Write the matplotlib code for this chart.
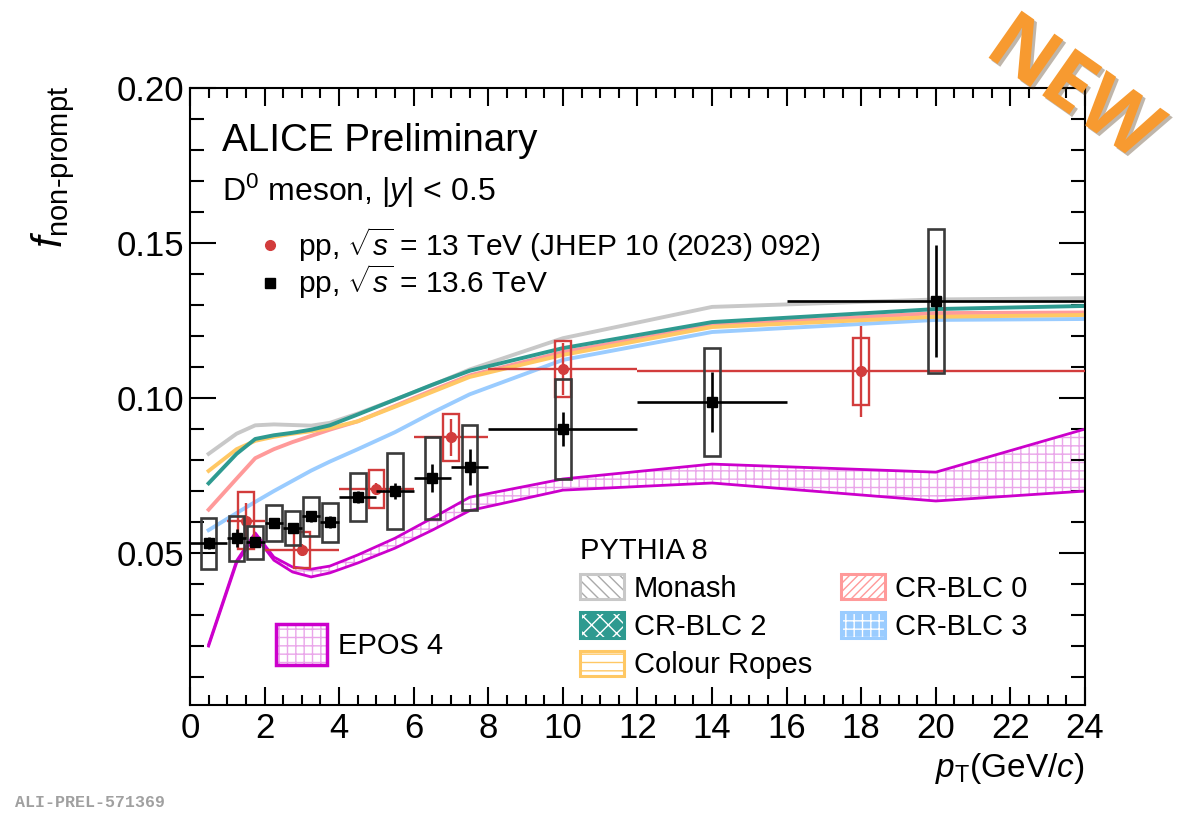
import matplotlib
matplotlib.use('Agg')
import matplotlib.pyplot as plt
import numpy as np
from matplotlib.patches import Patch
from matplotlib.lines import Line2D
from matplotlib.legend_handler import HandlerTuple
import matplotlib.patheffects as pe
from matplotlib.ticker import MultipleLocator, FormatStrFormatter

plt.rcParams['font.family'] = ['Liberation Sans', 'DejaVu Sans']
plt.rcParams['mathtext.fontset'] = 'custom'
plt.rcParams['mathtext.rm'] = 'Liberation Sans'
plt.rcParams['mathtext.it'] = 'Liberation Sans:italic'
plt.rcParams['mathtext.bf'] = 'Liberation Sans:bold'
plt.rcParams['hatch.linewidth'] = 1.0

# ---------------- data: pp 13.6 TeV ----------------
bin_lo_136 = [0, 1, 1.5, 2, 2.5, 3, 3.5, 4, 5, 6, 7, 8, 12, 16]
bin_hi_136 = [1, 1.5, 2, 2.5, 3, 3.5, 4, 5, 6, 7, 8, 12, 16, 24]
f_136 = [0.0532, 0.0548, 0.0535, 0.0597, 0.0581, 0.0619, 0.0600, 0.0681,
         0.0700, 0.0742, 0.0777, 0.0900, 0.0987, 0.1313]
stat_136 = [0.0020, 0.0028, 0.0015, 0.0015, 0.0015, 0.0018, 0.0018, 0.0020,
            0.0025, 0.0045, 0.0058, 0.0056, 0.0098, 0.0180]
syst_136 = [0.0082, 0.0072, 0.0053, 0.0057, 0.0054, 0.0063, 0.0063, 0.0076,
            0.0124, 0.0132, 0.0137, 0.0161, 0.0175, 0.0232]

# ---------------- data: pp 13 TeV (JHEP 10 (2023) 092) ----------------
bin_lo_13 = [1, 2, 4, 6, 8, 12]
bin_hi_13 = [2, 4, 6, 8, 12, 24]
f_13 = [0.0605, 0.0510, 0.0706, 0.0874, 0.1094, 0.1087]
stat_13 = [0.0058, 0.0020, 0.0020, 0.0060, 0.0085, 0.0147]
syst_13 = [0.0092, 0.0058, 0.0062, 0.0076, 0.0090, 0.0108]

# ---------------- models ----------------
pt_model = [0.5, 1.25, 1.75, 2.25, 2.75, 3.25, 3.75, 4.5, 5.5, 6.5, 7.5, 10, 14, 20, 24]
monash = [0.0820, 0.0885, 0.0912, 0.0915, 0.0913, 0.0911, 0.0920, 0.0950,
          0.0995, 0.1042, 0.1092, 0.1193, 0.1294, 0.1318, 0.1322]
crblc0 = [0.0640, 0.0740, 0.0806, 0.0835, 0.0858, 0.0878, 0.0898, 0.0925,
          0.0975, 0.1025, 0.1073, 0.1148, 0.1235, 0.1274, 0.1276]
crblc2 = [0.0725, 0.0820, 0.0868, 0.0880, 0.0888, 0.0898, 0.0912, 0.0947,
          0.0995, 0.1043, 0.1088, 0.1161, 0.1245, 0.1287, 0.1297]
crblc3 = [0.0574, 0.0629, 0.0665, 0.0700, 0.0733, 0.0766, 0.0795, 0.0835,
          0.0890, 0.0953, 0.1012, 0.1123, 0.1213, 0.1252, 0.1255]
ropes = [0.0765, 0.0835, 0.0862, 0.0875, 0.0885, 0.0893, 0.0903, 0.0925,
         0.0972, 0.1020, 0.1068, 0.1139, 0.1229, 0.1262, 0.1268]
epos_hi = [0.0205, 0.0475, 0.0565, 0.0487, 0.0455, 0.0448, 0.0458, 0.0494,
           0.0548, 0.0613, 0.0680, 0.0739, 0.0787, 0.0761, 0.0900]
epos_lo = [0.0200, 0.0468, 0.0555, 0.0477, 0.0439, 0.0423, 0.0436, 0.0468,
           0.0516, 0.0574, 0.0637, 0.0703, 0.0726, 0.0668, 0.0700]

# colours
c_red = '#d23c3c'
c_black = 'black'
c_box = '#3a3a3a'
c_monash = '#c8c8c8'
c_blc0 = '#ff9a9a'
c_blc2 = '#2e9a90'
c_blc3 = '#9accff'
c_ropes = '#ffc864'
c_epos = '#cc00cc'
c_epos_h = '#eaa6ea'

fig = plt.figure(figsize=(11.91, 8.15), dpi=100)
ax = fig.add_axes([0.1595, 0.135, 0.7515, 0.757])

# models
ax.fill_between(pt_model, epos_lo, epos_hi, facecolor='none', edgecolor=c_epos_h,
                hatch='++', lw=0, zorder=1)
ax.plot(pt_model, epos_hi, color=c_epos, lw=2.0, zorder=2)
ax.plot(pt_model, epos_lo, color=c_epos, lw=2.0, zorder=2)
for vals, col in [(monash, c_monash), (crblc3, c_blc3), (crblc0, c_blc0),
                  (ropes, c_ropes), (crblc2, c_blc2)]:
    ax.plot(pt_model, vals, color=col, lw=2.8, zorder=2, solid_joinstyle='round')

# data 13 TeV
x13 = (np.array(bin_lo_13) + np.array(bin_hi_13)) / 2
xe13 = (np.array(bin_hi_13) - np.array(bin_lo_13)) / 2
ax.bar(x13, 2 * np.array(syst_13), bottom=np.array(f_13) - np.array(syst_13),
       width=0.42, facecolor='none', edgecolor=c_red, lw=1.7, zorder=4)
ax.errorbar(x13, f_13, xerr=xe13, yerr=stat_13, fmt='o', color=c_red, ms=7,
            elinewidth=1.7, capsize=0, zorder=5)

# data 13.6 TeV
x136 = (np.array(bin_lo_136) + np.array(bin_hi_136)) / 2
xe136 = (np.array(bin_hi_136) - np.array(bin_lo_136)) / 2
ax.bar(x136, 2 * np.array(syst_136), bottom=np.array(f_136) - np.array(syst_136),
       width=0.42, facecolor='none', edgecolor=c_box, lw=1.9, zorder=6)
ax.errorbar(x136, f_136, xerr=xe136, yerr=stat_136, fmt='s', color=c_black, ms=7.5,
            elinewidth=1.9, capsize=0, zorder=7)

# axes
ax.set_xlim(0, 24)
ax.set_ylim(0.001, 0.2)
ax.xaxis.set_major_locator(MultipleLocator(2))
ax.xaxis.set_minor_locator(MultipleLocator(0.5))
ax.yaxis.set_major_locator(MultipleLocator(0.05))
ax.yaxis.set_minor_locator(MultipleLocator(0.01))
ax.yaxis.set_major_formatter(FormatStrFormatter('%.2f'))
ax.tick_params(axis='both', which='both', direction='in', top=True, right=True,
               width=1.5, labelsize=25)
ax.tick_params(axis='x', which='major', length=13, pad=5)
ax.tick_params(axis='x', which='minor', length=7)
ax.tick_params(axis='y', which='major', length=19, pad=4)
ax.tick_params(axis='y', which='minor', length=10)
for s in ax.spines.values():
    s.set_linewidth(1.5)

ax.set_xlabel(r'$p_{\rm T}$(GeV/$c$)', fontsize=24, ha='right')
ax.xaxis.set_label_coords(1.0, -0.075)
fig.text(0.045, 0.895, r'$f_{\text{non-prompt}}$', rotation=90, va='top', ha='center',
         fontsize=30)

# texts
ax.text(0.036, 0.914, 'ALICE Preliminary', transform=ax.transAxes, fontsize=27.8,
        va='center', ha='left')
ax.text(0.036, 0.834, r'D$^{0}$ meson, |$y$| < 0.5', transform=ax.transAxes,
        fontsize=23, va='center', ha='left')

# data legend
h_data = [Line2D([], [], marker='o', color=c_red, ls='none', ms=7),
          Line2D([], [], marker='s', color=c_black, ls='none', ms=7.5)]
leg1 = ax.legend(h_data, [r'pp, $\sqrt{s}$ = 13 TeV (JHEP 10 (2023) 092)',
                          r'pp, $\sqrt{s}$ = 13.6 TeV'],
                 loc='upper left', bbox_to_anchor=(0.0726, 0.778), frameon=False,
                 fontsize=21.5, handlelength=1.0, handletextpad=0.45, borderpad=0,
                 borderaxespad=0, labelspacing=-0.05)
ax.add_artist(leg1)

# PYTHIA legend
def box(fc, ec, hatch, hatch_ec):
    return (Patch(facecolor=fc, edgecolor=hatch_ec, hatch=hatch, lw=0),
            Patch(facecolor='none', edgecolor=ec, lw=2.2))

h_py = [box('white', c_monash, '\\\\\\', '#aaaaaa'),
        box(c_blc2, c_blc2, 'xx', 'white'),
        box('white', c_ropes, '--', c_ropes),
        box('white', c_blc0, '////', c_blc0),
        box(c_blc3, c_blc3, '++', 'white')]
l_py = ['Monash', 'CR-BLC 2', 'Colour Ropes', 'CR-BLC 0', 'CR-BLC 3']
leg2 = ax.legend(h_py, l_py, ncol=2, title='PYTHIA 8', title_fontsize=21,
                 loc='upper left', bbox_to_anchor=(0.4358, 0.273), frameon=False,
                 fontsize=21, handlelength=1.5, handleheight=0.95,
                 handletextpad=0.35, columnspacing=1.0, borderpad=0, borderaxespad=0,
                 labelspacing=0.33, alignment='left',
                 handler_map={tuple: HandlerTuple(ndivide=1, pad=0)})
ax.add_artist(leg2)

# EPOS legend
h_ep = [(Patch(facecolor='white', edgecolor=c_epos_h, hatch='++', lw=0),
         Patch(facecolor='none', edgecolor=c_epos, lw=2.5))]
leg3 = ax.legend(h_ep, ['EPOS 4'], loc='upper left', bbox_to_anchor=(0.0961, 0.131),
                 frameon=False, fontsize=21, handlelength=1.76, handleheight=1.8,
                 handletextpad=0.35, borderpad=0, borderaxespad=0,
                 handler_map={tuple: HandlerTuple(ndivide=1, pad=0)})

# NEW stamp
fig.text(0.9, 0.889, 'NEW', rotation=-35, fontsize=58, color='#f79a30',
         fontweight='bold', family='Open Sans', ha='center', va='center',
         path_effects=[pe.SimplePatchShadow(offset=(2, -2), alpha=0.35), pe.Normal()])

fig.text(0.013, 0.015, 'ALI-PREL-571369', fontsize=12, color='#a0a0a0',
         family='Liberation Mono', fontweight='bold', ha='left', va='center')

fig.savefig('out.png', dpi=100)
